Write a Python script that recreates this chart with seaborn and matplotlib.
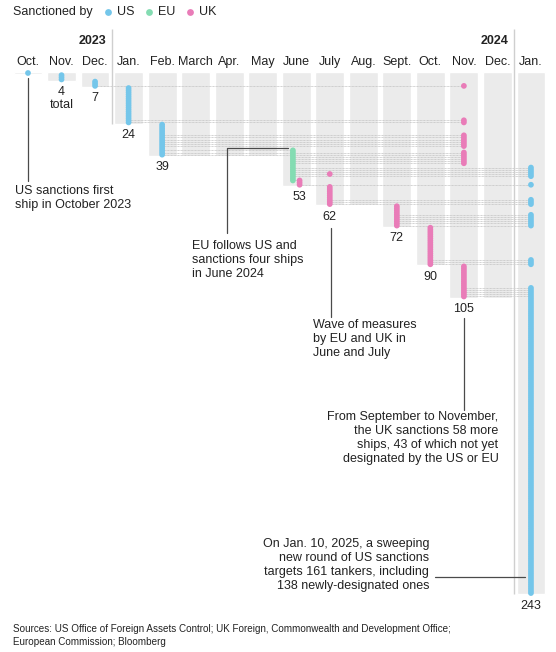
import pandas as pd
import numpy as np
import seaborn as sns
import matplotlib.pyplot as plt

# Months shown as columns, Oct 2023 .. Jan 2025
months = ['Oct.', 'Nov.', 'Dec.', 'Jan.', 'Feb.', 'March', 'Apr.', 'May', 'June',
          'July', 'Aug.', 'Sept.', 'Oct.', 'Nov.', 'Dec.', 'Jan.']
years = ['2023', '2024']
year_jan = [3, 15]
total_ships = [1, 4, 7, 24, 39, 39, 39, 39, 53, 62, 62, 72, 90, 105, 105, 243]
labelled_months = [1, 2, 3, 4, 8, 9, 11, 12, 13, 15]

# Sanction batches: month index, sanctioning body, first and last ship number
# (ships are numbered in the order they were first sanctioned)
batch_month = [0, 1, 2, 3, 4, 8, 8, 9, 9, 11, 12, 13, 13, 13, 13, 13, 15, 15, 15, 15, 15, 15]
batch_by = ['US', 'US', 'US', 'US', 'US', 'EU', 'UK', 'UK', 'UK', 'UK', 'UK',
            'UK', 'UK', 'UK', 'UK', 'UK', 'US', 'US', 'US', 'US', 'US', 'US']
batch_first = [1, 2, 5, 8, 25, 37, 51, 48, 54, 63, 73, 7, 23, 30, 38, 91, 45, 53, 60, 67, 88, 101]
batch_last = [1, 4, 7, 24, 39, 51, 53, 48, 62, 72, 90, 7, 24, 35, 43, 105, 49, 53, 62, 72, 90, 243]

palette = {'US': '#74c6ea', 'EU': '#84dcb2', 'UK': '#e97cb8'}
dodge = {'US': -0.1, 'EU': -0.1, 'UK': 0.1}
ink = '#222222'

recs = []
for m, by, a, b in zip(batch_month, batch_by, batch_first, batch_last):
    for ship in range(a, b + 1):
        recs.append({'month': m, 'by': by, 'ship': ship})
df = pd.DataFrame(recs)
n_by = df.groupby('month')['by'].transform('nunique')
df['x'] = df['month'] + np.where(n_by > 1, df['by'].map(dodge), 0.0)

links = df.groupby('ship')['x'].agg(['min', 'max'])
links = links[links['min'] < links['max']]

sns.set_style('white')
plt.rcParams['font.family'] = ['Liberation Sans', 'DejaVu Sans']

fig = plt.figure(figsize=(5.56, 6.52), dpi=100)
ax = fig.add_axes([0, 0, 1, 1])
ax.set_xlim(-28 / 33.53, (556 - 28) / 33.53)
ax.set_ylim(1 + (652 - 73) / 2.149, 1 - 73 / 2.149)
ax.axis('off')

# grey month columns, down to the running total
ax.bar(range(len(months)), total_ships, bottom=0.5, width=0.86, color='#ebebeb', zorder=0)

# dotted links between repeated sanctions of the same ship
ax.hlines(links.index, links['min'], links['max'], colors='#c2c2c2', linewidth=0.6,
          linestyles=(0, (1.0, 0.7)), zorder=1)

sns.scatterplot(data=df, x='x', y='ship', hue='by', palette=palette, s=17,
                linewidth=0, legend=False, ax=ax, zorder=3)

# year separators and headers
for yr, j in zip(years, year_jan):
    ax.vlines(j - 0.5, -19.3, total_ships[j] + 0.5, color='#cfcfcf', lw=1, zorder=2)
    ax.text(j - 0.67, -14.1, yr, ha='right', va='center', fontsize=9, fontweight='bold', color=ink)
for i, m in enumerate(months):
    ax.text(i, -4.1, m, ha='center', va='center', fontsize=9, color=ink)

# running total labels
for m in labelled_months:
    lab = str(total_ships[m]) + ('\ntotal' if m == 1 else '')
    xs = df.loc[(df['month'] == m) & (df['ship'] == total_ships[m]), 'x'].iloc[0]
    ax.text(xs, total_ships[m] + 3.0, lab, ha='center', va='top', fontsize=9,
            color=ink, linespacing=1.1)

# legend
ax.text(-0.447, -27.4, 'Sanctioned by', ha='left', va='center', fontsize=9, color=ink)
for name, dx in zip(['US', 'EU', 'UK'], [2.395, 3.618, 4.831]):
    ax.scatter(dx, -27.4, s=24, color=palette[name], linewidth=0)
    ax.text(dx + 0.27, -27.4, name, ha='left', va='center', fontsize=9, color=ink)

# annotations
line_kw = dict(color='#4a4a4a', lw=0.9, zorder=2)
ax.plot([0, 0], [3.3, 51.3], **line_kw)
ax.text(-0.39, 53.3, 'US sanctions first\nship in October 2023', ha='left', va='top',
        fontsize=9, color=ink, linespacing=1.2)

ax.plot([7.76, 5.93, 5.93], [36.0, 36.0, 75.6], **line_kw)
ax.text(4.90, 78.7, 'EU follows US and\nsanctions four ships\nin June 2024', ha='left', va='top',
        fontsize=9, color=ink, linespacing=1.2)

ax.plot([9.05, 9.05], [73.1, 114.5], **line_kw)
ax.text(8.50, 115.6, 'Wave of measures\nby EU and UK in\nJune and July', ha='left', va='top',
        fontsize=9, color=ink, linespacing=1.2)

ax.plot([13.01, 13.01], [115.0, 157.8], **line_kw)
ax.text(14.03, 158.5, 'From September to November,\nthe UK sanctions 58 more\n'
        'ships, 43 of which not yet\ndesignated by the US or EU', ha='right', va='top',
        fontsize=9, color=ink, linespacing=1.2)

ax.plot([12.14, 14.82], [235.4, 235.4], **line_kw)
ax.text(11.97, 217.6, 'On Jan. 10, 2025, a sweeping\nnew round of US sanctions\n'
        'targets 161 tankers, including\n138 newly-designated ones', ha='right', va='top',
        fontsize=9, color=ink, linespacing=1.2)

ax.text(-0.447, 257.2, 'Sources: US Office of Foreign Assets Control; UK Foreign, Commonwealth '
        'and Development Office;\nEuropean Commission; Bloomberg', ha='left', va='top',
        fontsize=7.1, color=ink, linespacing=1.45)

fig.savefig('out.png', dpi=100)
